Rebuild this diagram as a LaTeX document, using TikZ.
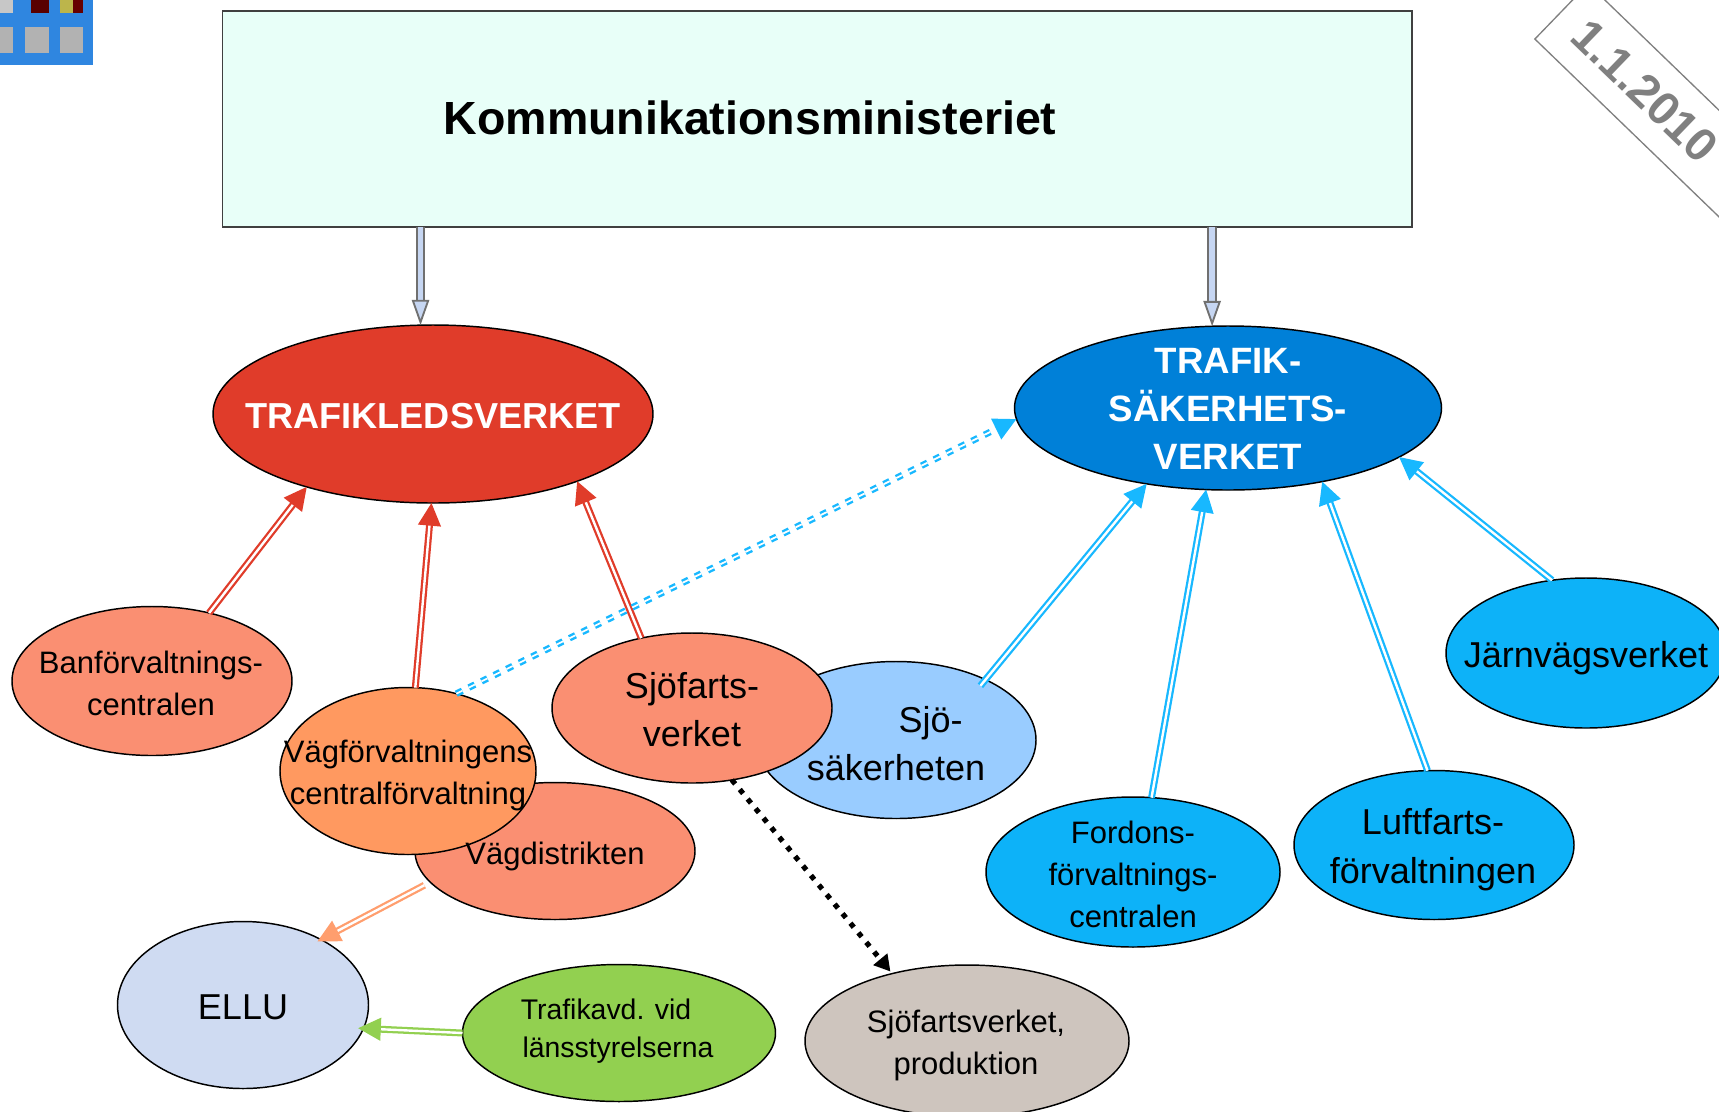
\documentclass[tikz,border=0pt]{standalone}
\usepackage{fontspec}
\setmainfont{Liberation Sans}
\usetikzlibrary{shapes.geometric,arrows.meta}
\definecolor{boxfill}{HTML}{E8FFF8}
\definecolor{ledred}{HTML}{E03C2A}
\definecolor{salmon}{HTML}{FA8F72}
\definecolor{vagorange}{HTML}{FF9960}
\definecolor{tsvblue}{HTML}{0080D8}
\definecolor{skyfill}{HTML}{0DB2F8}
\definecolor{skyline}{HTML}{18B8FF}
\definecolor{palesky}{HTML}{99CCFF}
\definecolor{elluFill}{HTML}{CFDBF2}
\definecolor{grassgreen}{HTML}{92D050}
\definecolor{prodgray}{HTML}{CEC5BE}
\definecolor{hollowblue}{HTML}{C6D6F2}
\definecolor{shaftgray}{HTML}{707070}
\definecolor{orangeline}{HTML}{FF9E6E}
\definecolor{iconblue}{HTML}{2F86E0}
\definecolor{datecolor}{HTML}{808080}
\tikzset{
  oval/.style n args={3}{ellipse,draw=black,line width=1.1pt,fill=#3,inner sep=0pt,outer sep=0pt,
    minimum width=#1*0.75pt,minimum height=#2*0.75pt},
  smalltext/.style={align=center,font=\fontsize{23.25pt}{31.5pt}\selectfont,text=black},
  bigtext/.style={align=center,font=\fontsize{27pt}{36pt}\selectfont,text=black},
  tinytext/.style={align=center,font=\fontsize{21.3pt}{29pt}\selectfont,text=black},
  headtext/.style={align=center,font=\fontsize{27.5pt}{36pt}\bfseries\selectfont,text=white},
  hollowarrow/.style={draw=shaftgray,line width=1.4pt,double=hollowblue,double distance=4.2pt,
    -{Triangle[fill=hollowblue,length=19pt,width=13pt]}},
  twin/.style={draw=#1,line width=1.7pt,double=white,double distance=1.8pt,
    -{Triangle[fill=#1,length=17pt,width=17pt]}},
  twindash/.style={draw=#1,line width=1.8pt,double=white,double distance=1.3pt,dash pattern=on 5pt off 5.5pt,
    -{Triangle[fill=#1,length=17pt,width=17pt]}},
  dotline/.style={draw=black,line width=3.9pt,dash pattern=on 3.9pt off 5.4pt,
    -{Triangle[length=12pt,width=13pt]}},
}
\begin{document}
\begin{tikzpicture}[x=0.75pt,y=-0.75pt]
\useasboundingbox (0,0) rectangle (1719,1111);
\clip (0,0) rectangle (1719,1111);
% icon
\fill[iconblue] (0,0) rectangle (93,65);
\fill[black!30] (0,27) rectangle (13,53);
\fill[black!30] (25,27) rectangle (49,53);
\fill[black!30] (60,27) rectangle (83,53);
\fill[black!22] (0,0) rectangle (13,13);
\fill[black!65!red] (31,0) rectangle (49,13);
\fill[olive!60] (60,0) rectangle (73,13);
\fill[black!60!red] (73,0) rectangle (83,13);
% date band
\node[draw=datecolor,line width=1pt,rotate=-44,minimum width=320*0.75pt,minimum height=76.7*0.75pt,inner sep=0pt,outer sep=0pt] (dateband) at (1676.6,122.6) {};
\node[rotate=-44,text=datecolor,font=\fontsize{35pt}{36pt}\bfseries\selectfont] (datetext) at (1645,91) {1.1.2010};
% ministry
\node[draw=black!75,line width=1.1pt,fill=boxfill,minimum width=1189.5*0.75pt,minimum height=216*0.75pt,inner sep=0pt,outer sep=0pt] (box) at (817,119) {};
\node[font=\fontsize{34.9pt}{36pt}\bfseries\selectfont,text=black] (boxtext) at (750,118) {Kommunikationsministeriet};
% ovals
\node[oval={440}{178}{ledred}] (led) at (433,414) {};
\node[oval={427}{164}{tsvblue}] (tsv) at (1228,408) {};
\node[oval={280}{149}{salmon}] (ban) at (152,681) {};
\node[oval={280}{137}{salmon}] (vagd) at (555,851) {};
\node[oval={256}{167}{vagorange}] (vagf) at (408,771) {};
\node[oval={280}{157}{palesky}] (sak) at (896,740) {};
\node[oval={280}{150}{salmon}] (sjo) at (692,708) {};
\node[oval={294}{150}{skyfill}] (ford) at (1133,872) {};
\node[oval={280}{149}{skyfill}] (luft) at (1434,845) {};
\node[oval={280}{150}{skyfill}] (jarn) at (1586,653) {};
\node[oval={251}{167}{elluFill}] (ellu) at (243,1005) {};
\node[oval={313}{137}{grassgreen}] (lans) at (619,1033) {};
\node[oval={324}{152}{prodgray}] (prod) at (967,1041) {};
% labels
\node[headtext,font=\fontsize{27.1pt}{36pt}\bfseries\selectfont] (ledtext) at (433,416) {TRAFIKLEDSVERKET};
\node[headtext] (tsvtext) at (1228,409) {TRAFIK-\\SÄKERHETS-\\VERKET};
\node[smalltext] (bantext) at (151,683) {Banförvaltnings-\\centralen};
\node[smalltext] (vagdtext) at (555,856) {Vägdistrikten};
\node[smalltext] (vagftext) at (408,775) {Vägförvaltningens\\centralförvaltning};
\node[bigtext] (saktext) at (896,744) {\hspace{52pt}Sjö-\\säkerheten};
\node[bigtext] (sjotext) at (692,710) {Sjöfarts-\\verket};
\node[smalltext] (fordtext) at (1133,874) {Fordons-\\förvaltnings-\\centralen};
\node[bigtext,font=\fontsize{27pt}{37pt}\selectfont] (lufttext) at (1433,850) {Luftfarts-\\förvaltningen};
\node[bigtext] (jarntext) at (1586,658) {Järnvägsverket};
\node[bigtext] (ellutext) at (243,1007) {ELLU};
\node[tinytext] (lanstext) at (618,1031) {Trafikavd. vid\hspace*{18pt}\\länsstyrelserna};
\node[smalltext] (prodtext) at (966,1045) {Sjöfartsverket,\\produktion};
% connectors
\draw[hollowarrow] (box.south -| led.98.6) -- (led.98.6);
\draw[hollowarrow] (box.south -| tsv.101) -- (tsv.101);
\draw[twin=ledred] (ban.50.9) -- (led.210.2);
\draw[twin=ledred] (vagf.85.9) -- (led.-91.9);
\draw[twin=ledred] (sjo.126.4) -- (led.-25.4);
\draw[twindash=skyline] (vagf.58.9) -- (tsv.183.8);
\draw[twin=skyline,shorten <=-6pt] (sak.34.5) -- (tsv.-137.1);
\draw[twin=skyline] (ford.76.3) -- (tsv.-105.8);
\draw[twin=skyline] (luft.95.4) -- (tsv.-38.2);
\draw[twin=skyline] (jarn.115.3) -- (tsv.-16.2);
\draw[twin=orangeline,shorten <=5pt,shorten >=-3pt] (vagd.194.3) -- (ellu.40.9);
\draw[twin=grassgreen,shorten >=-4pt] (lans.180) -- (ellu.-11.4);
\draw[dotline,shorten >=2pt] (sjo.-61.9) -- (prod.138.4);
\end{tikzpicture}
\end{document}
